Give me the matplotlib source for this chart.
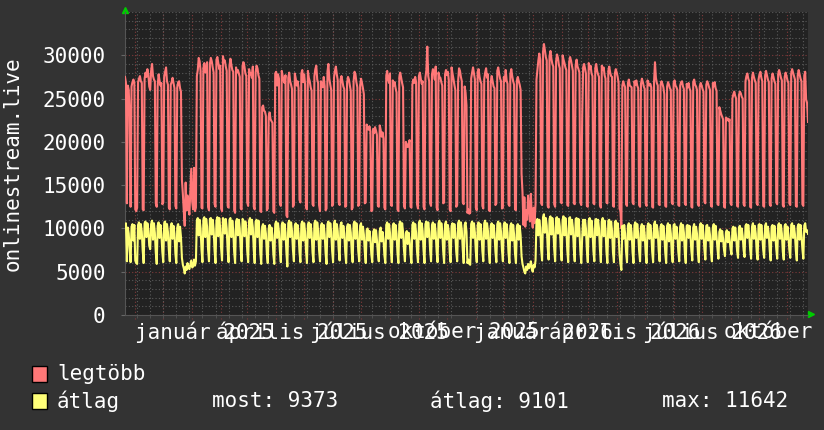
import matplotlib
matplotlib.use("Agg")
import matplotlib.pyplot as plt
import matplotlib.patches as patches
from matplotlib.ticker import MultipleLocator
import pandas as pd
import numpy as np

# daily values in thousands, one row per week (Mon..Sun), from 2024-10-21
legtobb_weeks = [
    [27.5, 26.8, 12.9, 26.5, 26.0, 23.0, 12.5],
    [26.4, 26.9, 27.2, 26.8, 12.2, 12.0, 12.4],
    [26.9, 27.3, 27.6, 27.0, 26.8, 12.2, 12.1],
    [27.3, 28.0, 27.5, 28.4, 27.8, 26.4, 26.0],
    [28.2, 29.0, 27.6, 27.2, 27.0, 12.9, 12.5],
    [26.4, 27.8, 27.1, 26.5, 26.8, 12.8, 13.0],
    [27.5, 28.1, 28.6, 27.0, 26.6, 12.4, 12.2],
    [26.6, 26.9, 27.4, 26.8, 26.2, 12.6, 12.3],
    [26.3, 26.9, 27.0, 26.2, 25.8, 15.6, 14.0],
    [12.0, 10.3, 15.3, 12.1, 13.8, 12.3, 11.6],
    [14.2, 16.9, 13.1, 12.2, 17.0, 12.0, 12.4],
    [27.6, 28.3, 29.7, 29.3, 28.2, 12.4, 12.3],
    [28.5, 29.1, 28.0, 28.4, 29.2, 12.5, 12.1],
    [29.0, 29.7, 29.3, 28.6, 28.0, 12.8, 12.5],
    [29.5, 29.8, 29.1, 28.4, 28.8, 12.3, 12.0],
    [29.9, 29.2, 29.4, 28.7, 28.2, 12.6, 12.4],
    [28.8, 29.6, 28.9, 28.3, 28.1, 12.1, 11.8],
    [28.6, 28.0, 28.3, 27.9, 27.5, 12.3, 12.2],
    [28.8, 29.2, 28.7, 27.9, 27.6, 13.0, 12.6],
    [28.4, 27.8, 27.9, 27.4, 28.7, 12.5, 12.2],
    [28.0, 28.8, 28.5, 27.7, 27.3, 12.0, 11.9],
    [24.0, 24.2, 23.6, 23.5, 23.0, 12.1, 12.3],
    [22.9, 23.4, 22.6, 22.4, 22.2, 12.0, 11.8],
    [27.9, 28.1, 26.5, 27.8, 27.3, 12.9, 12.6],
    [28.2, 27.6, 27.1, 26.8, 27.7, 11.5, 11.3],
    [27.4, 28.0, 27.0, 26.6, 26.1, 12.5, 12.7],
    [27.9, 27.3, 26.5, 27.0, 26.2, 13.3, 13.0],
    [27.9, 28.3, 26.9, 27.8, 26.6, 12.4, 12.2],
    [28.2, 27.4, 27.0, 26.3, 25.9, 12.8, 12.6],
    [27.6, 28.4, 28.8, 27.2, 26.8, 12.7, 12.0],
    [27.0, 26.5, 26.3, 27.5, 26.4, 12.1, 12.3],
    [28.1, 29.0, 27.3, 26.6, 26.0, 12.6, 12.8],
    [27.4, 28.2, 28.7, 27.8, 27.1, 13.0, 12.7],
    [27.2, 27.6, 27.0, 26.4, 26.1, 12.5, 12.6],
    [26.8, 27.5, 27.2, 26.5, 25.9, 12.2, 12.4],
    [27.0, 28.1, 27.8, 26.9, 26.3, 12.6, 12.8],
    [26.5, 27.3, 26.8, 26.2, 25.5, 12.9, 13.0],
    [22.0, 21.6, 21.4, 21.8, 21.2, 12.0, 12.1],
    [21.5, 21.0, 21.7, 21.3, 20.8, 12.6, 12.5],
    [21.9, 21.4, 20.6, 21.1, 20.4, 12.4, 12.2],
    [27.6, 28.2, 27.2, 26.8, 27.9, 12.7, 12.6],
    [27.1, 26.5, 26.9, 26.2, 25.7, 12.2, 12.0],
    [27.5, 28.0, 27.4, 26.8, 26.3, 12.6, 12.3],
    [20.0, 19.6, 19.4, 19.8, 20.2, 12.5, 12.4],
    [26.6, 27.2, 26.8, 27.5, 26.9, 12.8, 12.3],
    [27.6, 28.0, 27.3, 26.7, 27.0, 12.5, 12.2],
    [27.4, 28.3, 31.0, 27.6, 27.0, 12.9, 12.6],
    [27.8, 28.4, 27.9, 27.2, 28.7, 12.4, 12.1],
    [28.0, 27.5, 27.4, 26.9, 26.5, 12.9, 13.0],
    [27.8, 28.3, 27.7, 28.1, 27.2, 12.2, 12.0],
    [28.6, 27.9, 27.3, 26.6, 26.0, 12.5, 12.7],
    [27.0, 28.5, 28.2, 27.5, 27.0, 13.0, 12.8],
    [26.4, 25.7, 24.2, 11.8, 12.2, 11.7, 11.8],
    [27.3, 28.0, 28.6, 27.9, 27.2, 12.4, 12.1],
    [28.1, 28.4, 27.5, 27.0, 26.7, 12.6, 12.3],
    [27.2, 28.0, 28.5, 27.4, 27.8, 12.1, 12.0],
    [26.9, 27.6, 27.0, 26.4, 26.2, 12.7, 12.9],
    [28.2, 28.6, 27.9, 27.3, 27.0, 12.3, 12.4],
    [27.5, 27.0, 28.3, 27.1, 26.7, 12.8, 12.6],
    [27.8, 28.4, 27.6, 27.0, 26.6, 12.2, 12.1],
    [27.1, 27.5, 27.0, 26.6, 26.0, 16.3, 14.2],
    [10.4, 13.6, 10.2, 12.1, 11.0, 13.8, 12.6],
    [10.8, 14.0, 11.2, 10.1, 12.4, 10.6, 12.8],
    [27.2, 28.3, 29.4, 30.2, 29.5, 12.9, 12.7],
    [30.4, 31.3, 30.6, 29.8, 29.4, 12.6, 12.4],
    [29.9, 30.5, 29.6, 29.0, 28.7, 12.8, 12.5],
    [29.3, 30.1, 29.7, 28.9, 28.5, 13.1, 12.9],
    [30.0, 29.5, 29.1, 28.6, 28.3, 12.7, 12.6],
    [29.2, 29.8, 29.4, 28.8, 28.2, 12.9, 12.8],
    [28.9, 29.5, 28.7, 28.4, 28.0, 13.0, 12.7],
    [23.0, 28.6, 29.0, 28.5, 27.9, 12.6, 12.5],
    [29.1, 28.4, 28.8, 27.9, 27.6, 12.9, 12.8],
    [28.5, 29.0, 28.2, 27.8, 27.5, 12.7, 12.4],
    [28.8, 28.3, 28.6, 27.7, 27.3, 13.0, 12.9],
    [28.2, 28.7, 28.0, 27.6, 27.5, 12.6, 12.5],
    [27.9, 28.4, 28.0, 27.5, 26.8, 12.3, 12.0],
    [10.0, 26.5, 27.0, 26.6, 26.3, 12.8, 12.6],
    [26.8, 27.2, 26.5, 26.4, 26.3, 13.0, 12.8],
    [27.0, 26.6, 27.1, 26.5, 26.2, 12.7, 12.5],
    [26.7, 27.3, 26.9, 26.4, 26.1, 12.9, 12.6],
    [27.1, 26.8, 26.5, 26.7, 26.3, 12.5, 12.4],
    [26.9, 29.2, 27.4, 26.8, 26.5, 12.8, 12.7],
    [26.6, 27.0, 26.7, 26.3, 25.5, 12.6, 12.5],
    [26.4, 26.9, 26.6, 26.2, 26.0, 13.0, 12.8],
    [26.8, 27.1, 26.5, 26.3, 26.0, 12.7, 12.6],
    [26.5, 26.9, 27.0, 26.4, 26.1, 12.9, 12.7],
    [26.7, 26.3, 26.8, 26.2, 25.9, 12.5, 12.4],
    [26.9, 27.2, 26.6, 26.4, 26.0, 12.8, 12.6],
    [26.4, 26.8, 26.5, 26.1, 25.8, 13.1, 12.9],
    [26.6, 27.0, 26.7, 26.3, 26.0, 12.6, 12.5],
    [26.8, 26.4, 26.9, 26.2, 25.9, 12.8, 12.7],
    [24.0, 23.6, 23.2, 22.9, 22.6, 12.5, 12.4],
    [22.8, 22.5, 22.7, 22.4, 22.6, 12.9, 12.7],
    [25.0, 25.5, 25.8, 25.3, 25.0, 12.6, 12.5],
    [25.4, 25.8, 25.6, 25.2, 25.0, 12.8, 12.6],
    [27.0, 27.6, 27.9, 27.3, 27.0, 12.5, 12.4],
    [27.4, 28.0, 27.5, 27.1, 26.8, 12.9, 12.7],
    [27.2, 27.8, 28.1, 27.4, 27.0, 12.6, 12.5],
    [27.6, 28.2, 27.7, 27.2, 26.9, 12.8, 12.6],
    [27.3, 27.9, 27.5, 27.0, 26.7, 13.0, 12.8],
    [27.8, 28.3, 27.9, 27.4, 27.1, 12.7, 12.5],
    [27.5, 28.0, 27.6, 27.1, 26.8, 12.9, 12.7],
    [27.9, 28.4, 28.0, 27.6, 27.2, 12.6, 12.5],
    [27.7, 28.3, 27.8, 27.3, 27.0, 12.8, 12.6],
    [27.6, 28.1, 24.9, 24.5, 22.3],
]

atlag_weeks = [
    [10.3, 10.6, 6.2, 10.1, 9.4, 7.6, 6.1],
    [10.2, 10.5, 8.6, 10.4, 6.3, 6.0, 5.9],
    [10.4, 10.7, 8.8, 10.5, 9.6, 7.4, 6.0],
    [10.6, 10.8, 9.0, 10.6, 9.8, 8.0, 7.6],
    [10.5, 10.9, 8.7, 10.6, 9.5, 7.2, 5.9],
    [10.3, 10.7, 8.9, 10.4, 9.3, 7.3, 6.1],
    [10.6, 10.8, 8.6, 10.5, 9.6, 7.5, 6.2],
    [10.2, 10.6, 8.8, 10.3, 9.4, 7.1, 6.0],
    [10.1, 10.5, 8.5, 10.2, 9.0, 6.6, 5.8],
    [5.4, 4.8, 5.6, 5.2, 6.0, 5.5, 5.3],
    [5.8, 6.3, 5.5, 5.6, 6.4, 5.7, 6.2],
    [10.9, 11.2, 9.2, 11.0, 10.0, 7.5, 6.1],
    [11.0, 11.3, 9.0, 11.1, 10.2, 7.6, 6.2],
    [11.1, 11.2, 9.3, 11.0, 9.9, 7.4, 6.0],
    [10.9, 11.3, 9.1, 11.2, 10.1, 7.7, 6.3],
    [11.2, 11.0, 9.4, 11.1, 10.0, 7.5, 6.1],
    [11.0, 11.2, 9.0, 10.9, 9.8, 7.3, 6.0],
    [10.8, 11.1, 9.2, 11.0, 10.0, 7.6, 6.2],
    [11.1, 10.9, 9.1, 10.8, 9.9, 7.4, 6.1],
    [10.9, 11.2, 9.3, 11.0, 10.1, 7.5, 6.0],
    [10.8, 11.0, 9.0, 10.9, 9.7, 7.2, 5.9],
    [10.2, 10.5, 8.8, 10.3, 9.4, 7.1, 6.0],
    [10.0, 10.4, 8.6, 10.1, 9.2, 7.0, 5.9],
    [10.5, 10.8, 8.9, 10.6, 9.6, 7.4, 6.1],
    [10.4, 10.7, 8.7, 10.5, 9.5, 7.2, 5.6],
    [10.6, 10.9, 9.0, 10.7, 9.7, 7.5, 6.2],
    [10.3, 10.6, 8.8, 10.4, 9.4, 7.3, 6.1],
    [10.5, 10.8, 8.6, 10.6, 9.6, 7.4, 6.0],
    [10.4, 10.7, 8.9, 10.5, 9.5, 7.2, 6.1],
    [10.6, 10.9, 8.7, 10.7, 9.8, 7.5, 6.2],
    [10.3, 10.6, 8.8, 10.4, 9.3, 7.1, 5.9],
    [10.5, 10.8, 9.0, 10.6, 9.6, 7.4, 6.1],
    [10.6, 10.9, 8.7, 10.5, 9.7, 7.6, 6.3],
    [10.4, 10.7, 8.9, 10.3, 9.4, 7.3, 6.0],
    [10.2, 10.5, 8.6, 10.4, 9.5, 7.2, 6.1],
    [10.5, 10.8, 8.8, 10.6, 9.6, 7.4, 6.2],
    [10.3, 10.6, 8.7, 10.2, 9.3, 7.3, 6.0],
    [9.8, 10.0, 8.6, 9.7, 8.9, 7.0, 6.1],
    [9.6, 9.9, 8.4, 9.8, 8.7, 7.1, 6.2],
    [9.7, 10.1, 8.5, 9.6, 8.8, 6.9, 6.0],
    [10.4, 10.7, 8.8, 10.5, 9.5, 7.4, 6.1],
    [10.3, 10.6, 8.7, 10.4, 9.4, 7.2, 6.0],
    [10.5, 10.8, 8.9, 10.6, 9.6, 7.5, 6.2],
    [9.4, 9.7, 8.2, 9.5, 8.6, 7.0, 6.0],
    [10.4, 10.7, 8.8, 10.5, 9.5, 7.3, 6.1],
    [10.6, 10.9, 8.7, 10.6, 9.7, 7.4, 6.0],
    [10.5, 10.8, 9.0, 10.7, 9.6, 7.5, 6.2],
    [10.4, 10.7, 8.8, 10.5, 9.5, 7.3, 6.1],
    [10.6, 10.9, 8.9, 10.6, 9.7, 7.4, 6.0],
    [10.5, 10.8, 8.7, 10.4, 9.6, 7.2, 6.1],
    [10.3, 10.6, 8.9, 10.5, 9.4, 7.3, 6.2],
    [10.6, 10.9, 8.8, 10.7, 9.8, 7.5, 6.0],
    [10.4, 10.7, 9.6, 6.0, 6.4, 5.9, 5.8],
    [10.5, 10.8, 8.9, 10.6, 9.5, 7.3, 6.1],
    [10.4, 10.7, 8.7, 10.5, 9.6, 7.4, 6.2],
    [10.6, 10.9, 8.8, 10.6, 9.7, 7.2, 6.0],
    [10.3, 10.6, 8.9, 10.4, 9.4, 7.3, 6.1],
    [10.5, 10.8, 8.7, 10.6, 9.6, 7.5, 6.2],
    [10.4, 10.7, 8.9, 10.5, 9.5, 7.2, 6.0],
    [10.3, 10.6, 8.6, 10.4, 9.3, 7.1, 6.0],
    [10.2, 10.5, 8.7, 10.3, 9.2, 6.8, 5.9],
    [5.5, 5.0, 4.8, 5.6, 5.2, 5.9, 5.4],
    [5.7, 6.2, 5.3, 5.0, 5.8, 5.5, 6.3],
    [10.8, 11.1, 9.2, 11.0, 10.1, 7.6, 6.3],
    [11.3, 11.642, 9.5, 11.2, 10.3, 7.8, 6.4],
    [11.1, 11.4, 9.3, 11.2, 10.1, 7.6, 6.2],
    [11.2, 11.3, 9.4, 11.1, 10.2, 7.7, 6.3],
    [11.0, 11.4, 9.2, 11.2, 10.0, 7.5, 6.1],
    [11.2, 11.3, 9.3, 11.0, 10.1, 7.6, 6.2],
    [11.1, 11.2, 9.1, 11.1, 9.9, 7.4, 6.0],
    [9.0, 11.0, 9.2, 11.0, 10.0, 7.5, 6.1],
    [10.9, 11.2, 9.0, 10.9, 9.9, 7.4, 6.2],
    [11.0, 11.1, 9.2, 11.0, 10.0, 7.6, 6.1],
    [10.8, 11.2, 9.1, 10.9, 9.8, 7.3, 6.0],
    [10.9, 11.0, 8.9, 10.8, 9.7, 7.2, 6.1],
    [10.7, 10.9, 9.0, 10.6, 9.4, 7.0, 5.9],
    [5.2, 10.3, 8.8, 10.4, 9.4, 7.3, 6.1],
    [10.3, 10.6, 8.7, 10.4, 9.5, 7.2, 6.0],
    [10.4, 10.7, 8.9, 10.5, 9.4, 7.4, 6.2],
    [10.2, 10.5, 8.6, 10.3, 9.3, 7.1, 6.0],
    [10.3, 10.6, 8.8, 10.4, 9.5, 7.3, 6.1],
    [10.5, 10.8, 8.9, 10.4, 9.6, 7.4, 6.2],
    [10.2, 10.5, 8.7, 10.3, 9.2, 7.2, 6.0],
    [10.3, 10.6, 8.5, 10.4, 9.4, 7.0, 6.1],
    [10.4, 10.5, 8.8, 10.2, 9.3, 7.3, 6.2],
    [10.2, 10.6, 8.6, 10.4, 9.5, 7.1, 6.0],
    [10.3, 10.4, 8.9, 10.3, 9.2, 7.4, 6.3],
    [10.1, 10.5, 8.7, 10.2, 9.4, 7.2, 6.1],
    [10.2, 10.6, 8.8, 10.4, 9.3, 7.5, 6.4],
    [10.3, 10.4, 8.6, 10.1, 9.2, 7.3, 6.2],
    [10.1, 10.5, 8.7, 10.3, 9.1, 7.6, 6.5],
    [9.6, 9.9, 8.5, 9.7, 8.8, 7.5, 6.8],
    [9.5, 9.8, 8.4, 9.6, 8.7, 7.6, 7.0],
    [10.0, 10.2, 8.6, 10.1, 9.0, 7.4, 6.6],
    [10.1, 10.3, 8.7, 10.0, 9.1, 7.5, 6.7],
    [10.3, 10.5, 8.9, 10.4, 9.3, 7.6, 6.5],
    [10.2, 10.6, 8.8, 10.3, 9.4, 7.3, 6.4],
    [10.4, 10.5, 8.7, 10.4, 9.2, 7.5, 6.6],
    [10.3, 10.6, 8.9, 10.2, 9.3, 7.4, 6.3],
    [10.2, 10.4, 8.6, 10.3, 9.1, 7.6, 6.5],
    [10.4, 10.6, 8.8, 10.4, 9.4, 7.3, 6.4],
    [10.3, 10.5, 8.7, 10.2, 9.2, 7.5, 6.6],
    [10.4, 10.6, 8.9, 10.3, 9.3, 7.4, 6.3],
    [10.2, 10.5, 8.7, 10.4, 9.2, 7.6, 6.5],
    [10.3, 10.6, 9.6, 9.8, 9.373],
]

start_date = "2024-10-21"
label_dates = ["2025-01-14", "2025-04-18", "2025-07-21", "2025-10-19",
               "2026-01-12", "2026-04-10", "2026-07-13", "2026-10-14"]
label_texts = ["január 2025", "április 2025", "július 2025", "október 2025",
               "január 2026", "április 2026", "július 2026", "október 2026"]
most_val = 9373
atlag_val = 9101
max_val = 11642

legtobb = np.array([v for row in legtobb_weeks for v in row]) * 1000
atlag = np.array([v for row in atlag_weeks for v in row]) * 1000
days = pd.date_range(start_date, periods=len(legtobb), freq="D")

BG = "#333333"
CANVAS = "#222222"
FG = "#ffffff"
MINOR = "#5a5a5a"
MAJOR = "#803a3a"
MONO = "DejaVu Sans Mono"
FS = 15

fig = plt.figure(figsize=(8.24, 4.30), dpi=100, facecolor=BG)
ax = fig.add_axes([125 / 824, 115 / 430, 683 / 824, 303 / 430])
ax.set_facecolor(CANVAS)

ax.plot(days, legtobb, color="#ff7878", lw=1.5, zorder=3)
ax.plot(days, atlag, color="#ffff78", lw=1.5, zorder=3)

ax.set_xlim(days[0], days[-1])
ax.set_ylim(0, 35000)

# y axis
ax.yaxis.set_major_locator(MultipleLocator(5000))
ax.yaxis.set_minor_locator(MultipleLocator(1000))
ax.set_yticks(range(0, 35000, 5000))
ax.set_yticklabels([str(v) for v in range(0, 35000, 5000)], fontfamily=MONO, fontsize=FS, color=FG)
ax.tick_params(axis="y", which="major", length=3, color="#666666", pad=11)
ax.tick_params(axis="y", which="minor", length=0)

# x axis
ax.set_xticks(pd.to_datetime(label_dates))
ax.set_xticklabels(label_texts, fontfamily=MONO, fontsize=FS, color=FG)
ax.tick_params(axis="x", which="major", length=0, pad=5)
ax.set_xticks(pd.date_range("2024-11-03", days[-1], freq="14D"), minor=True)
ax.tick_params(axis="x", which="minor", length=2, color="#555555")

ax.set_axisbelow(True)
ax.grid(which="minor", axis="both", color=MINOR, ls=(0, (1, 2)), lw=0.8)
ax.grid(which="major", axis="y", color=MAJOR, ls=(0, (1, 2)), lw=0.8)
ax.grid(which="major", axis="x", visible=False)
for d in pd.date_range("2024-11-01", days[-1], freq="MS"):
    ax.axvline(d, ymin=-0.012, ymax=1, color=MAJOR, ls=(0, (1, 2)), lw=0.8,
               zorder=0.5, clip_on=False)

for side in ["top", "right"]:
    ax.spines[side].set_visible(False)
for side in ["left", "bottom"]:
    ax.spines[side].set_color("#555555")
    ax.spines[side].set_linewidth(0.8)

# arrows
ax.plot([0], [1.008], marker="^", ms=5, color="#00cc00", transform=ax.transAxes, clip_on=False)
ax.plot([1.004], [0.004], marker=">", ms=5, color="#00cc00", transform=ax.transAxes, clip_on=False)

fig.text(13 / 824, 1 - 164 / 430, "onlinestream.live", rotation=90, ha="center", va="center",
         fontfamily=MONO, fontsize=FS, color=FG)

# legend
fig.patches.append(patches.Rectangle((32 / 824, 1 - 382 / 430), 15 / 824, 16 / 430,
                                     transform=fig.transFigure, facecolor="#ff7878",
                                     edgecolor="black", lw=1))
fig.patches.append(patches.Rectangle((32 / 824, 1 - 409 / 430), 15 / 824, 16 / 430,
                                     transform=fig.transFigure, facecolor="#ffff78",
                                     edgecolor="black", lw=1))
row1 = 1 - 374 / 430
row2 = 1 - 401 / 430
fig.text(57 / 824, row1, "legtöbb", va="center", fontfamily=MONO, fontsize=FS, color=FG)
fig.text(57 / 824, row2, "átlag", va="center", fontfamily=MONO, fontsize=FS, color=FG)
fig.text(212 / 824, row2, f"most: {most_val}", va="center", fontfamily=MONO, fontsize=FS, color=FG)
fig.text(430 / 824, row2, f"átlag: {atlag_val}", va="center", fontfamily=MONO, fontsize=FS, color=FG)
fig.text(662 / 824, row2, f"max: {max_val}", va="center", fontfamily=MONO, fontsize=FS, color=FG)

fig.savefig("out.png", dpi=100, facecolor=BG)
